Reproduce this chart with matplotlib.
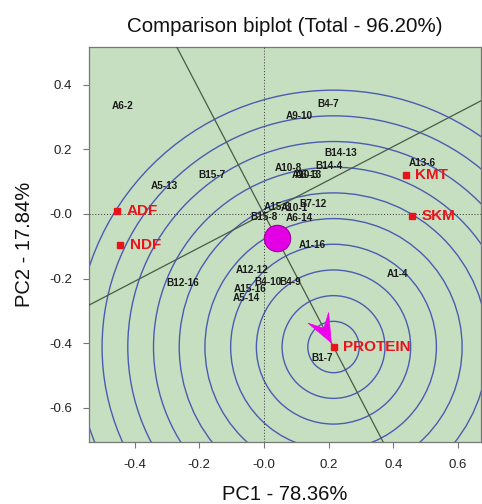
import numpy as np
import matplotlib
matplotlib.use("Agg")
import matplotlib.pyplot as plt
from matplotlib.patches import Circle, Polygon

plt.rcParams['font.family'] = ['Liberation Sans', 'DejaVu Sans']

# Environment (trait) vectors
env_names = ["ADF", "NDF", "KMT", "SKM", "PROTEIN"]
env_x = [-0.454, -0.445, 0.438, 0.458, 0.215]
env_y = [0.009, -0.096, 0.120, -0.005, -0.412]

# Genotype labels
gen_names = ["A6-2", "B4-7", "A9-10", "B15-7", "A5-13", "B14-13", "B14-4", "A10-8",
             "A10-3", "A6-13", "A13-6", "A15-6", "A10-1", "B7-12", "B15-8", "A6-14",
             "A1-16", "A1-4", "A12-12", "B4-10", "B4-9", "A15-16", "A5-14", "B12-16", "B1-7"]
gen_x = [-0.436, 0.198, 0.108, -0.161, -0.309, 0.238, 0.201, 0.074,
         0.127, 0.138, 0.488, 0.040, 0.093, 0.151, 0.000, 0.108,
         0.148, 0.414, -0.037, 0.012, 0.080, -0.043, -0.053, -0.250, 0.179]
gen_y = [0.334, 0.340, 0.303, 0.121, 0.087, 0.189, 0.149, 0.142,
         0.121, 0.119, 0.158, 0.022, 0.019, 0.031, -0.009, -0.012,
         -0.096, -0.186, -0.173, -0.210, -0.210, -0.232, -0.260, -0.214, -0.446]

# Average environment marker
avg_x, avg_y = 0.040, -0.075

# Ideal point (circle centre) and ring spacing
ideal_x, ideal_y = 0.215, -0.412
ring_step = 0.0795
n_rings = 10

xticks = [-0.4, -0.2, 0.0, 0.2, 0.4, 0.6]
xticklabels = ["-0.4", "-0.2", "-0.0", "0.2", "0.4", "0.6"]
yticks = [-0.6, -0.4, -0.2, 0.0, 0.2, 0.4]
yticklabels = ["-0.6", "-0.4", "-0.2", "-0.0", "0.2", "0.4"]

xlim = (-0.541, 0.671)
ylim = (-0.706, 0.517)

fig = plt.figure(figsize=(4.82, 5.04), dpi=100)
ax = fig.add_axes([0.1846, 0.123, 0.8134, 0.784])
ax.set_facecolor('#c6dfc0')
ax.set_xlim(*xlim)
ax.set_ylim(*ylim)

# concentric circles
for k in range(1, n_rings + 1):
    c = Circle((ideal_x, ideal_y), k * ring_step, fill=False, edgecolor='#4a5cb2',
               lw=1.0, zorder=2)
    ax.add_patch(c)

# axis through origin and ideal, and its perpendicular
d = np.array([ideal_x, ideal_y])
d = d / np.linalg.norm(d)
p = np.array([-d[1], d[0]])
t = np.linspace(-3, 3, 2)
ax.plot(t * d[0], t * d[1], color='#4a5a44', lw=0.9, zorder=3)
ax.plot(t * p[0], t * p[1], color='#4a5a44', lw=0.9, zorder=3)

# dotted zero lines
ax.axhline(0, color='#333333', ls=(0, (1, 2)), lw=0.7, zorder=3)
ax.axvline(0, color='#333333', ls=(0, (1, 2)), lw=0.7, zorder=3)

# genotype labels
for n, x, y in zip(gen_names, gen_x, gen_y):
    ax.text(x, y, n, fontsize=7.2, fontweight='bold', color='#1a1a1a',
            ha='center', va='center', zorder=5)

# environment markers
ax.plot(env_x, env_y, 's', color='#e8141c', ms=5, zorder=6)
for n, x, y in zip(env_names, env_x, env_y):
    ax.text(x + 0.03, y, n, fontsize=11, fontweight='bold', color='#e8141c',
            ha='left', va='center', zorder=6)

# average environment marker
ax.plot([avg_x], [avg_y], 'o', ms=19, color='#e400e4', mec='#9a009a', mew=0.8, zorder=7)

# arrowhead pointing to ideal
u = np.array([avg_x - ideal_x, avg_y - ideal_y])
u = u / np.linalg.norm(u)
v = np.array([-u[1], u[0]])
tip = np.array([ideal_x, ideal_y]) + 0.015 * u
L, W, N = 0.087, 0.036, 0.05
pts = [tip, tip + L * u + W * v, tip + N * u, tip + L * u - W * v]
ax.add_patch(Polygon(pts, closed=True, facecolor='#ee00ee', edgecolor='#ee00ee',
                     lw=0.5, zorder=7))

ax.set_xticks(xticks)
ax.set_xticklabels(xticklabels)
ax.set_yticks(yticks)
ax.set_yticklabels(yticklabels)
ax.tick_params(direction='out', length=4, width=0.8, color='#777777',
               labelsize=9.5, labelcolor='#222222', pad=8)
for s in ax.spines.values():
    s.set_color('#777777')
    s.set_linewidth(0.9)

ax.set_title("Comparison biplot (Total - 96.20%)", fontsize=14.8, color='#111111', pad=11)
ax.set_xlabel("PC1 - 78.36%", fontsize=14.5, color='#111111', labelpad=10)
ax.set_ylabel("PC2 - 17.84%", fontsize=14.5, color='#111111', labelpad=11)

fig.savefig("out.png", dpi=100)
